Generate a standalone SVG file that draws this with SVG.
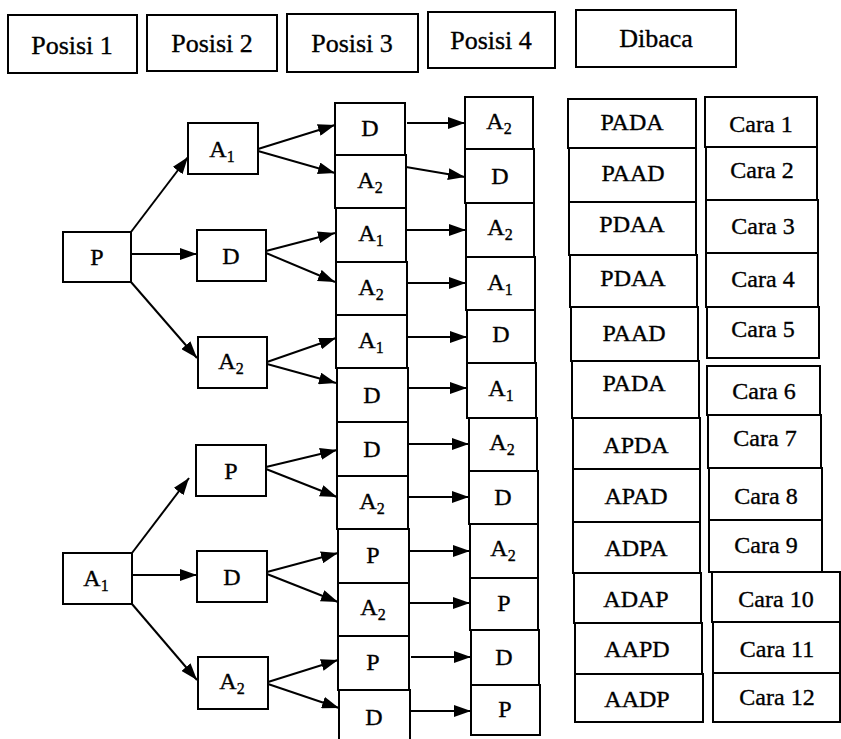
<svg xmlns="http://www.w3.org/2000/svg" width="841" height="739" viewBox="0 0 841 739">
<style>
.box{fill:#fff;stroke:#000;stroke-width:2}
.t{font-family:"Liberation Serif","Times New Roman",serif;font-size:24px;text-anchor:middle;fill:#000;stroke:#000;stroke-width:0.35}
.h{font-size:26px}
.s{font-size:16px}
.c{stroke:#000;stroke-width:2;fill:none;marker-end:url(#ah)}
</style>
<defs>
<marker id="ah" viewBox="0 0 17 12" refX="17" refY="6" markerWidth="17" markerHeight="12" markerUnits="userSpaceOnUse" orient="auto"><path d="M0,0 L17,6 L0,12 z" fill="#000"/></marker>
</defs>
<rect width="841" height="739" fill="#fff"/>
<g id="headers">
<g id="h1"><rect class="box" x="8" y="15" width="129" height="58"/><text class="t h" x="72" y="54">Posisi 1</text></g>
<g id="h2"><rect class="box" x="147" y="15" width="130" height="56"/><text class="t h" x="212" y="52">Posisi 2</text></g>
<g id="h3"><rect class="box" x="287" y="14" width="131" height="58"/><text class="t h" x="352" y="52">Posisi 3</text></g>
<g id="h4"><rect class="box" x="428" y="12" width="127" height="56"/><text class="t h" x="491" y="49">Posisi 4</text></g>
<g id="h5"><rect class="box" x="576" y="10" width="160" height="57"/><text class="t h" x="656" y="47">Dibaca</text></g>
</g>
<g id="level1">
<g id="n-P"><rect class="box" x="63" y="232" width="68" height="50"/><text class="t" x="97" y="265">P</text></g>
<g id="n-A1"><rect class="box" x="63" y="553" width="69" height="51"/><text class="t" x="96" y="586">A<tspan class="s" dy="5">1</tspan></text></g>
</g>
<g id="level2">
<g id="n-P-A1"><rect class="box" x="188" y="123" width="70" height="51"/><text class="t" x="222" y="157">A<tspan class="s" dy="5">1</tspan></text></g>
<g id="n-P-D"><rect class="box" x="197" y="230" width="69" height="51"/><text class="t" x="231" y="264">D</text></g>
<g id="n-P-A2"><rect class="box" x="198" y="337" width="69" height="51"/><text class="t" x="231" y="369">A<tspan class="s" dy="5">2</tspan></text></g>
<g id="n-A1-P"><rect class="box" x="196" y="445" width="70" height="51"/><text class="t" x="231" y="479">P</text></g>
<g id="n-A1-D"><rect class="box" x="197" y="551" width="70" height="51"/><text class="t" x="232" y="585">D</text></g>
<g id="n-A1-A2"><rect class="box" x="198" y="657" width="70" height="52"/><text class="t" x="232" y="689">A<tspan class="s" dy="5">2</tspan></text></g>
</g>
<g id="col3">
<g id="c3-1"><rect class="box" x="335" y="103" width="70" height="52"/><text class="t" x="370" y="136">D</text></g>
<g id="c3-2"><rect class="box" x="335" y="155" width="71" height="53"/><text class="t" x="370" y="188">A<tspan class="s" dy="5">2</tspan></text></g>
<g id="c3-3"><rect class="box" x="336" y="208" width="70" height="54"/><text class="t" x="371" y="241">A<tspan class="s" dy="5">1</tspan></text></g>
<g id="c3-4"><rect class="box" x="336" y="262" width="71" height="53"/><text class="t" x="371" y="295">A<tspan class="s" dy="5">2</tspan></text></g>
<g id="c3-5"><rect class="box" x="336" y="315" width="71" height="53"/><text class="t" x="371" y="348">A<tspan class="s" dy="5">1</tspan></text></g>
<g id="c3-6"><rect class="box" x="337" y="368" width="71" height="54"/><text class="t" x="372" y="403">D</text></g>
<g id="c3-7"><rect class="box" x="337" y="422" width="71" height="54"/><text class="t" x="372" y="457">D</text></g>
<g id="c3-8"><rect class="box" x="337" y="476" width="71" height="53"/><text class="t" x="372" y="509">A<tspan class="s" dy="5">2</tspan></text></g>
<g id="c3-9"><rect class="box" x="338" y="529" width="71" height="54"/><text class="t" x="373" y="563">P</text></g>
<g id="c3-10"><rect class="box" x="338" y="583" width="71" height="53"/><text class="t" x="373" y="615">A<tspan class="s" dy="5">2</tspan></text></g>
<g id="c3-11"><rect class="box" x="338" y="636" width="71" height="54"/><text class="t" x="373" y="670">P</text></g>
<g id="c3-12"><rect class="box" x="339" y="690" width="71" height="54"/><text class="t" x="374" y="725">D</text></g>
</g>
<g id="col4">
<g id="c4-1"><rect class="box" x="465" y="97" width="68" height="52"/><text class="t" x="499" y="129">A<tspan class="s" dy="5">2</tspan></text></g>
<g id="c4-2"><rect class="box" x="465" y="149" width="69" height="54"/><text class="t" x="500" y="184">D</text></g>
<g id="c4-3"><rect class="box" x="466" y="203" width="68" height="54"/><text class="t" x="500" y="235">A<tspan class="s" dy="5">2</tspan></text></g>
<g id="c4-4"><rect class="box" x="466" y="257" width="69" height="53"/><text class="t" x="500" y="290">A<tspan class="s" dy="5">1</tspan></text></g>
<g id="c4-5"><rect class="box" x="467" y="310" width="68" height="53"/><text class="t" x="501" y="342">D</text></g>
<g id="c4-6"><rect class="box" x="467" y="363" width="69" height="55"/><text class="t" x="501" y="396">A<tspan class="s" dy="5">1</tspan></text></g>
<g id="c4-7"><rect class="box" x="469" y="418" width="68" height="53"/><text class="t" x="502" y="450">A<tspan class="s" dy="5">2</tspan></text></g>
<g id="c4-8"><rect class="box" x="469" y="471" width="69" height="53"/><text class="t" x="503" y="505">D</text></g>
<g id="c4-9"><rect class="box" x="470" y="524" width="68" height="54"/><text class="t" x="503" y="556">A<tspan class="s" dy="5">2</tspan></text></g>
<g id="c4-10"><rect class="box" x="470" y="578" width="68" height="52"/><text class="t" x="504" y="611">P</text></g>
<g id="c4-11"><rect class="box" x="471" y="630" width="68" height="55"/><text class="t" x="504" y="665">D</text></g>
<g id="c4-12"><rect class="box" x="471" y="685" width="69" height="50"/><text class="t" x="505" y="717">P</text></g>
</g>
<g id="col5">
<g id="c5-1"><rect class="box" x="568" y="99" width="128" height="49"/><text class="t" x="632" y="130">PADA</text></g>
<g id="c5-2"><rect class="box" x="569" y="148" width="127" height="54"/><text class="t" x="633" y="181">PAAD</text></g>
<g id="c5-3"><rect class="box" x="569" y="202" width="127" height="53"/><text class="t" x="632" y="232">PDAA</text></g>
<g id="c5-4"><rect class="box" x="570" y="255" width="127" height="52"/><text class="t" x="633" y="286">PDAA</text></g>
<g id="c5-5"><rect class="box" x="571" y="307" width="127" height="54"/><text class="t" x="634" y="341">PAAD</text></g>
<g id="c5-6"><rect class="box" x="572" y="361" width="127" height="57"/><text class="t" x="634" y="391">PADA</text></g>
<g id="c5-7"><rect class="box" x="573" y="418" width="127" height="51"/><text class="t" x="636" y="453">APDA</text></g>
<g id="c5-8"><rect class="box" x="573" y="469" width="127" height="53"/><text class="t" x="636" y="504">APAD</text></g>
<g id="c5-9"><rect class="box" x="573" y="522" width="127" height="51"/><text class="t" x="636" y="556">ADPA</text></g>
<g id="c5-10"><rect class="box" x="574" y="573" width="127" height="50"/><text class="t" x="636" y="607">ADAP</text></g>
<g id="c5-11"><rect class="box" x="575" y="623" width="127" height="51"/><text class="t" x="637" y="657">AAPD</text></g>
<g id="c5-12"><rect class="box" x="575" y="674" width="128" height="48"/><text class="t" x="637" y="707">AADP</text></g>
</g>
<g id="col6">
<g id="c6-1"><rect class="box" x="705" y="97" width="112" height="50"/><text class="t" x="761" y="132">Cara 1</text></g>
<g id="c6-2"><rect class="box" x="706" y="147" width="111" height="53"/><text class="t" x="762" y="178">Cara 2</text></g>
<g id="c6-3"><rect class="box" x="706" y="200" width="112" height="53"/><text class="t" x="763" y="234">Cara 3</text></g>
<g id="c6-4"><rect class="box" x="706" y="253" width="112" height="54"/><text class="t" x="763" y="287">Cara 4</text></g>
<g id="c6-5"><rect class="box" x="707" y="307" width="112" height="51"/><text class="t" x="763" y="337">Cara 5</text></g>
<g id="c6-6"><rect class="box" x="707" y="366" width="113" height="49"/><text class="t" x="764" y="399">Cara 6</text></g>
<g id="c6-7"><rect class="box" x="708" y="415" width="113" height="53"/><text class="t" x="765" y="446">Cara 7</text></g>
<g id="c6-8"><rect class="box" x="709" y="468" width="113" height="52"/><text class="t" x="766" y="504">Cara 8</text></g>
<g id="c6-9"><rect class="box" x="709" y="520" width="113" height="52"/><text class="t" x="766" y="553">Cara 9</text></g>
<g id="c6-10"><rect class="box" x="712" y="572" width="128" height="50"/><text class="t" x="776" y="607">Cara 10</text></g>
<g id="c6-11"><rect class="box" x="713" y="622" width="127" height="51"/><text class="t" x="777" y="657">Cara 11</text></g>
<g id="c6-12"><rect class="box" x="713" y="673" width="127" height="49"/><text class="t" x="777" y="705">Cara 12</text></g>
</g>
<g id="connectors">
<line class="c" x1="131" y1="232" x2="188" y2="157"/>
<line class="c" x1="131" y1="254" x2="197" y2="254"/>
<line class="c" x1="131" y1="282" x2="197" y2="358"/>
<line class="c" x1="132" y1="553" x2="189" y2="478"/>
<line class="c" x1="132" y1="575" x2="197" y2="575"/>
<line class="c" x1="132" y1="604" x2="197" y2="680"/>
<line class="c" x1="258" y1="149" x2="335" y2="125"/>
<line class="c" x1="258" y1="151" x2="335" y2="173"/>
<line class="c" x1="266" y1="251" x2="335" y2="233"/>
<line class="c" x1="266" y1="253" x2="335" y2="282"/>
<line class="c" x1="267" y1="362" x2="336" y2="338"/>
<line class="c" x1="267" y1="364" x2="336" y2="383"/>
<line class="c" x1="266" y1="467" x2="337" y2="450"/>
<line class="c" x1="266" y1="469" x2="337" y2="497"/>
<line class="c" x1="267" y1="572" x2="338" y2="553"/>
<line class="c" x1="267" y1="574" x2="338" y2="602"/>
<line class="c" x1="268" y1="682" x2="338" y2="660"/>
<line class="c" x1="268" y1="684" x2="339" y2="708"/>
<line class="c" x1="407" y1="123" x2="465" y2="123"/>
<line class="c" x1="406" y1="167" x2="465" y2="177"/>
<line class="c" x1="407" y1="230" x2="466" y2="230"/>
<line class="c" x1="407" y1="283" x2="466" y2="283"/>
<line class="c" x1="408" y1="337" x2="467" y2="337"/>
<line class="c" x1="408" y1="388" x2="467" y2="388"/>
<line class="c" x1="409" y1="444" x2="469" y2="444"/>
<line class="c" x1="409" y1="497" x2="469" y2="497"/>
<line class="c" x1="410" y1="551" x2="470" y2="551"/>
<line class="c" x1="410" y1="603" x2="470" y2="603"/>
<line class="c" x1="411" y1="657" x2="471" y2="657"/>
<line class="c" x1="411" y1="711" x2="471" y2="711"/>
</g>
</svg>
